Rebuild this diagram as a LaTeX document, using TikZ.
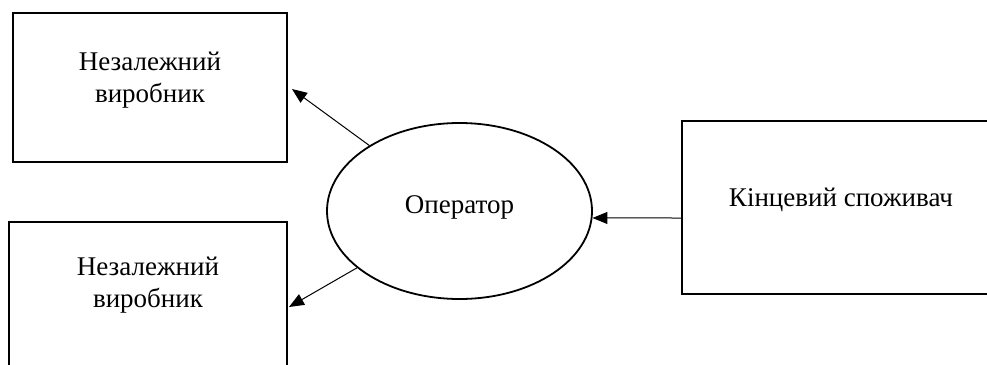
\documentclass[tikz,border=0pt]{standalone}
\usepackage{fontspec}
\setmainfont{Liberation Serif}
\usetikzlibrary{positioning,shapes.geometric,arrows.meta}

\begin{document}
\begin{tikzpicture}[x=1pt,y=-1pt,
    box/.style={draw=black,line width=2pt,rectangle,inner sep=0pt},
    oval/.style={draw=black,line width=1.8pt,ellipse,inner sep=0pt,
      minimum width=265pt,minimum height=176pt},
    txt/.style={inner sep=0pt,align=center,font=\fontsize{27}{32}\selectfont},
    arr/.style={line width=1pt,-{Triangle[length=15pt,width=12pt]}}]
  \useasboundingbox (0,0) rectangle (987,364);
  \clip (0,0) rectangle (987,364);
  % boxes
  \node[box,minimum width=274pt,minimum height=149pt] (prodA) at (150,87.5) {};
  \node[box,minimum width=278pt,minimum height=170pt] (prodB) at (148,307) {};
  \node[box,minimum width=318pt,minimum height=173pt] (cons) at (841,207.5) {};
  \node[oval] (oper) at (459.5,211) {};
  % labels
  \node[txt,below=40pt of prodA.north] (labA) {Незалежний\\виробник};
  \node[txt,below=36pt of prodB.north] (labB) {Незалежний\\виробник};
  \node[txt,anchor=base] (labO) at ([yshift=-2pt]oper.center) {Оператор};
  \node[txt,anchor=base] (labC) at ([yshift=1.5pt]cons.center) {Кінцевий споживач};
  % arrows
  \draw[arr] (oper.144) -- ([xshift=4pt,yshift=-1.5pt]prodA.east);
  \draw[arr] (oper.209) -- ([xshift=1pt]prodB.east);
  \draw[arr] ([yshift=-10.5pt]cons.west) -- (oper.-3);
\end{tikzpicture}
\end{document}
